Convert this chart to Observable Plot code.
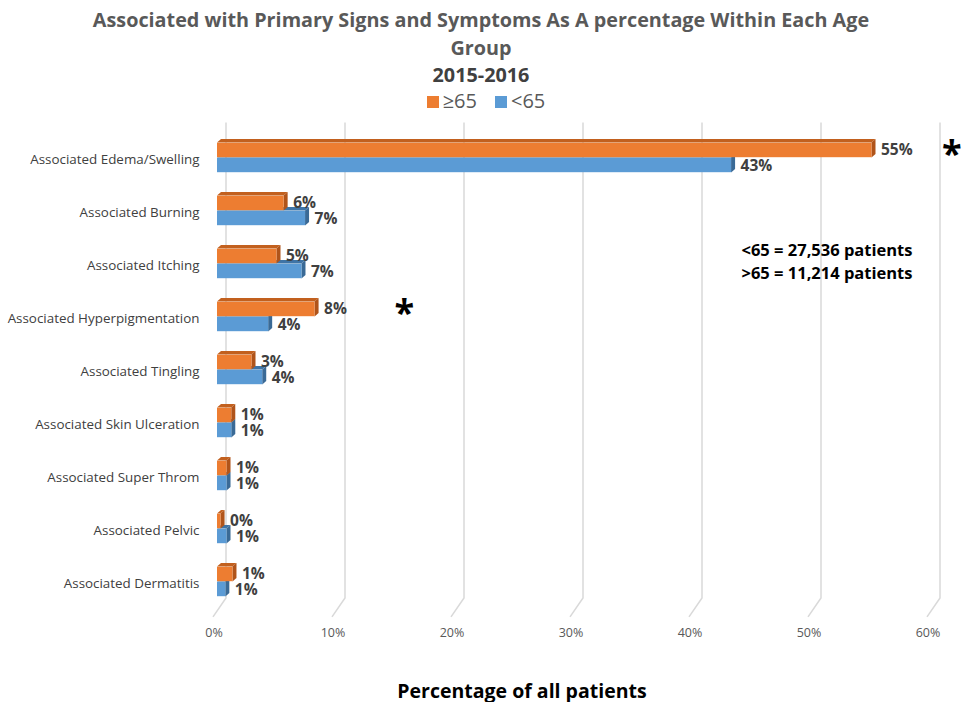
<!DOCTYPE html>
<html>
<head>
<meta charset="utf-8">
<script src="https://cdn.jsdelivr.net/npm/d3@7"></script>
<script src="https://cdn.jsdelivr.net/npm/@observablehq/plot@0.6"></script>
<style>
  body { margin: 0; background: #fff; font-family: "Open Sans", sans-serif; }
  #wrap { width: 962px; }
  .title { padding-top: 6px; text-align: center; font-weight: 700; font-size: 19.8px; line-height: 27.5px; color: #595959; }
  .title .yr { color: #404040; }
  .legend { height: 24px; line-height: 24px; text-align: center; font-size: 20px; color: #595959; padding-left: 10px; }
  .legend span.sw { display: inline-block; width: 12px; height: 12px; margin-right: 4px; }
  .legend span.item { margin: 0 9px; }
  .xlabel { height: 35px; line-height: 35px; text-align: center; padding-left: 82px; font-weight: 700; font-size: 19.5px; color: #000; }
</style>
</head>
<body>
<div id="wrap">
  <div class="title">Associated with Primary Signs and Symptoms As A percentage Within Each Age<br>Group<br><span class="yr">2015-2016</span></div>
  <div class="legend" id="legend"></div>
  <div id="chart"></div>
  <div class="xlabel">Percentage of all patients</div>
</div>
<script>
const categories = [
  "Associated Edema/Swelling",
  "Associated Burning",
  "Associated Itching",
  "Associated Hyperpigmentation",
  "Associated Tingling",
  "Associated Skin Ulceration",
  "Associated Super Throm",
  "Associated Pelvic",
  "Associated Dermatitis"
];
const seriesNames = ["≥65", "<65"];
const over65 = [55.0, 5.6, 5.0, 8.2, 2.9, 1.2, 0.8, 0.3, 1.3];
const under65 = [43.2, 7.4, 7.1, 4.3, 3.8, 1.2, 0.8, 0.8, 0.7];
const xTicks = [0, 10, 20, 30, 40, 50, 60];
const noteLines = ["<65 = 27,536 patients", ">65 = 11,214 patients"];
const starCategories = ["Associated Edema/Swelling", "Associated Hyperpigmentation"];
const starX = [61.7, 15.7];

const colors = {
  "≥65": {front: "#ED7D31", top: "#C2601E", side: "#B0541A"},
  "<65": {front: "#5B9BD5", top: "#3F74A6", side: "#3A6A96"}
};

const rows = [];
categories.forEach((c, i) => {
  rows.push({cat: c, series: "≥65", value: over65[i], label: Math.round(over65[i]) + "%"});
  rows.push({cat: c, series: "<65", value: under65[i], label: Math.round(under65[i]) + "%"});
});
const stars = starCategories.map((c, i) => ({cat: c, x: starX[i]}));

document.getElementById("legend").innerHTML = seriesNames.map(s =>
  `<span class="item"><span class="sw" style="background:${colors[s].front}"></span>${s}</span>`).join("");

const BAR_H = 15, SHIFT = 2, DEPTH_Y = 3.5, DEPTH_X = 4;

function gridMark(index, scales, values, dim) {
  const g = d3.create("svg:g");
  const top = dim.marginTop - 8;
  const bottom = dim.height - dim.marginBottom;
  for (const t of xTicks) {
    const x = scales.x(t);
    g.append("path")
      .attr("d", `M${x + 9},${top}L${x + 9},${bottom - 15}L${x - 4},${bottom + 4}`)
      .attr("fill", "none")
      .attr("stroke", "#d9d9d9")
      .attr("stroke-width", 1.5);
  }
  return g.node();
}

function facesMark(index, scales, values, dim) {
  const g = d3.create("svg:g");
  const step = scales.y(categories[1]) - scales.y(categories[0]);
  for (const s of ["<65", "≥65"]) {
    for (const r of rows.filter(d => d.series === s)) {
      const c = scales.y(r.cat) + step / 2 - SHIFT;
      const y0 = s === "≥65" ? c - BAR_H : c;
      const y1 = y0 + BAR_H;
      const x0 = scales.x(0), x1 = scales.x(r.value);
      g.append("path")
        .attr("d", `M${x0},${y0}L${x0 + DEPTH_X},${y0 - DEPTH_Y}L${x1 + DEPTH_X},${y0 - DEPTH_Y}L${x1},${y0}Z`)
        .attr("fill", colors[s].top);
      g.append("path")
        .attr("d", `M${x1},${y0}L${x1 + DEPTH_X},${y0 - DEPTH_Y}L${x1 + DEPTH_X},${y1 - DEPTH_Y}L${x1},${y1}Z`)
        .attr("fill", colors[s].side);
    }
  }
  return g.node();
}

const svgH = 560;
const mTop = 17.5;
const bandSpan = 53.6 * categories.length;
const mBottom = svgH - mTop - bandSpan;

const bandInset = (s) => {
  const half = 53.6 / 2;
  if (s === "≥65") return {insetTop: half - BAR_H - SHIFT, insetBottom: half + SHIFT};
  return {insetTop: half - SHIFT, insetBottom: half - BAR_H + SHIFT};
};

const chart = Plot.plot({
  width: 962,
  height: svgH,
  marginLeft: 217,
  marginRight: 31,
  marginTop: mTop,
  marginBottom: mBottom,
  style: {fontFamily: "'Open Sans', sans-serif", background: "#fff"},
  x: {domain: [0, 60], axis: null},
  y: {domain: categories, padding: 0, axis: null},
  marks: [
    gridMark,
    Plot.axisX(xTicks, {tickSize: 0, tickPadding: 15, dx: -3.5, tickFormat: d => d + "%", fontSize: 12.5, fill: "#595959", anchor: "bottom", label: null}),
    Plot.axisY({tickSize: 0, tickPadding: 18, fontSize: 13.4, fill: "#404040", anchor: "left", label: null}),
    facesMark,
    Plot.barX(rows.filter(d => d.series === "<65"), {y: "cat", x1: 0, x2: "value", fill: colors["<65"].front, ...bandInset("<65")}),
    Plot.barX(rows.filter(d => d.series === "≥65"), {y: "cat", x1: 0, x2: "value", fill: colors["≥65"].front, ...bandInset("≥65")}),
    Plot.text(rows.filter(d => d.series === "≥65"), {y: "cat", x: "value", text: "label", textAnchor: "start", dx: 9, dy: -9.5, fontSize: 15.5, fontWeight: 700, fill: "#404040"}),
    Plot.text(rows.filter(d => d.series === "<65"), {y: "cat", x: "value", text: "label", textAnchor: "start", dx: 9, dy: 6.5, fontSize: 15.5, fontWeight: 700, fill: "#404040"}),
    Plot.text(stars, {y: "cat", x: "x", text: () => "*", fontSize: 36, fontWeight: 700, fill: "#000", dy: -6}),
    Plot.text([noteLines[0]], {frameAnchor: "top-right", text: d => d, dx: -19, dy: 120, textAnchor: "end", fontSize: 16.5, fontWeight: 700, fill: "#000", lineAnchor: "middle"}),
    Plot.text([noteLines[1]], {frameAnchor: "top-right", text: d => d, dx: -19, dy: 143, textAnchor: "end", fontSize: 16.5, fontWeight: 700, fill: "#000", lineAnchor: "middle"})
  ]
});
document.getElementById("chart").appendChild(chart);
</script>
</body>
</html>
